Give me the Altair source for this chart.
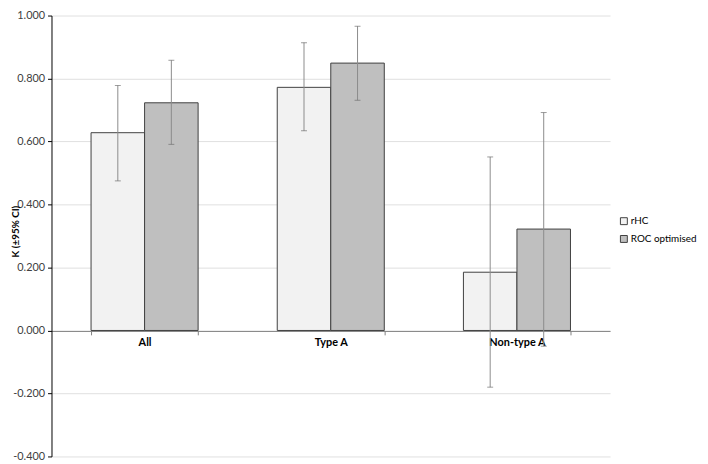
import altair as alt
import pandas as pd

categories = ["All", "Type A", "Non-type A"]
series = ["rHC", "ROC optimised"]
rhc_vals = [0.628, 0.772, 0.185]
rhc_lo = [0.475, 0.634, -0.180]
rhc_hi = [0.778, 0.914, 0.551]
roc_vals = [0.723, 0.849, 0.322]
roc_lo = [0.591, 0.731, -0.050]
roc_hi = [0.858, 0.966, 0.692]

rows = []
for i, c in enumerate(categories):
    rows.append({"cat": c, "series": "rHC", "k": rhc_vals[i], "lo": rhc_lo[i], "hi": rhc_hi[i]})
    rows.append({"cat": c, "series": "ROC optimised", "k": roc_vals[i], "lo": roc_lo[i], "hi": roc_hi[i]})
df = pd.DataFrame(rows)

FONT = "Lato"
H = 446

x = alt.X("cat:N", sort=categories, title=None,
          scale=alt.Scale(paddingInner=0.425, paddingOuter=0.2125),
          axis=alt.Axis(offset=-127, labelAngle=0, labelFontWeight="bold", labelFont=FONT,
                        labelFontSize=11, labelColor="#000000", labelPadding=2,
                        domainColor="#808080", tickColor="#808080", tickBand="extent",
                        tickSize=4, grid=False))
xo = alt.XOffset("series:N", sort=series, scale=alt.Scale(paddingInner=0, paddingOuter=0))
yscale = alt.Scale(domain=[-0.4, 1.0], nice=False, zero=False)

base = alt.Chart(df)

bars = base.mark_bar(stroke="#404040", strokeWidth=1).encode(
    x=x, xOffset=xo,
    y=alt.Y("k:Q", scale=yscale, title="K (±95% CI)",
            axis=alt.Axis(values=[-0.4, -0.2, 0, 0.2, 0.4, 0.6, 0.8, 1.0], format=".3f",
                          labelExpr="replace(datum.label, '\u2212', '-')",
                          labelFont=FONT, labelFontSize=11, labelColor="#404040",
                          labelPadding=3,
                          titleFont=FONT, titleFontSize=10, titleFontWeight="bold",
                          titleColor="#000000", titleX=-31, titleY=218,
                          domainColor="#000000", tickColor="#000000", tickSize=4,
                          gridColor="#e0e0e0", gridWidth=1)),
    color=alt.Color("series:N", sort=series, title=None,
                    scale=alt.Scale(domain=series, range=["#f2f2f2", "#bfbfbf"]),
                    legend=alt.Legend(orient="none", legendX=574, legendY=203,
                                      symbolType="square", symbolSize=49,
                                      symbolStrokeColor="#404040", symbolStrokeWidth=1,
                                      labelFont=FONT, labelFontSize=10, labelColor="#000000",
                                      labelOffset=2, rowPadding=6, symbolOffset=0,
                                      padding=0)),
)

rules = base.mark_rule(color="#8c8c8c", strokeWidth=1).encode(
    x=x, xOffset=xo, y=alt.Y("lo:Q", scale=yscale), y2="hi:Q")
cap_lo = base.mark_tick(color="#707070", size=6, thickness=1).encode(
    x=x, xOffset=xo, y=alt.Y("lo:Q", scale=yscale))
cap_hi = base.mark_tick(color="#707070", size=6, thickness=1).encode(
    x=x, xOffset=xo, y=alt.Y("hi:Q", scale=yscale))

chart = alt.layer(bars, rules, cap_lo, cap_hi).properties(
    width=565, height=H,
    autosize=alt.AutoSizeParams(type="none"),
    padding={"left": 44, "top": 5, "right": 91, "bottom": 5},
).configure_view(stroke=None).configure_axis(gridColor="#e0e0e0")

chart.save("out.html", embed_options={"renderer": "svg", "actions": False})
